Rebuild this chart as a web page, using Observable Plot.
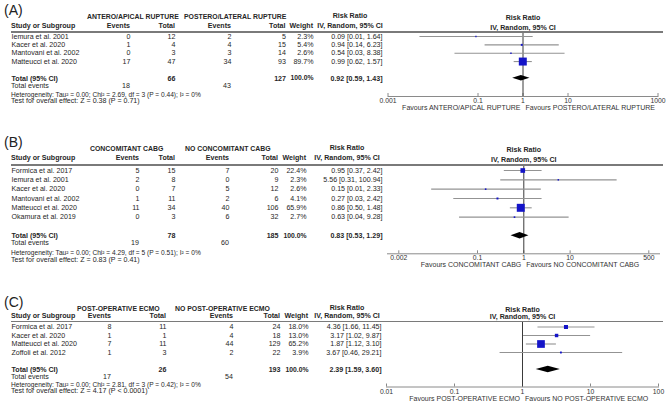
<!DOCTYPE html>
<html><head><meta charset="utf-8">
<script src="https://cdn.jsdelivr.net/npm/d3@7"></script>
<script src="https://cdn.jsdelivr.net/npm/@observablehq/plot@0.6"></script>
<style>
body{margin:0;background:#fff;}
#root{position:relative;width:667px;height:405px;overflow:hidden;font-family:"Liberation Sans",Arial,sans-serif;color:#262626;}
.panel{position:absolute;left:0;width:667px;}
.panel svg{position:absolute;left:0;top:0;overflow:visible;}
.t{position:absolute;white-space:nowrap;font-size:7.1px;line-height:1;}
.rule{position:absolute;height:1.2px;background:#7a7a7a;}
</style></head><body><div id="root"></div><script>
// ---------- Panel A data ----------
const aStudies = ["Iemura et al. 2001","Kacer et al. 2020","Mantovani et al. 2002","Matteucci et al. 2020"];
const aEv1 = [0,1,0,17];
const aTot1 = [12,4,3,47];
const aEv2 = [2,4,3,34];
const aTot2 = [5,15,14,93];
const aWeight = [2.3,5.4,2.6,89.7];
const aRR = [0.09,0.94,0.54,0.99];
const aLo = [0.005,0.14,0.03,0.62];
const aHi = [1.64,6.23,8.38,1.57];
const aCI = ["0.09 [0.01, 1.64]","0.94 [0.14, 6.23]","0.54 [0.03, 8.38]","0.99 [0.62, 1.57]"];
const aTotal = [66,127];
const aTotalRR = [0.92,0.59,1.43];
const aTotalCI = "0.92 [0.59, 1.43]";
const aTotalEvents = [18,43];
const aHet = "Heterogeneity: Tau\u00b2 = 0.00; Chi\u00b2 = 2.69, df = 3 (P = 0.44); I\u00b2 = 0%";
const aTest = "Test for overall effect: Z = 0.38 (P = 0.71)";
const aGroups = ["ANTERO/APICAL RUPTURE","POSTERO/LATERAL RUPTURE"];
const aFavours = ["Favours ANTERO/APICAL RUPTURE","Favours POSTERO/LATERAL RUPTURE"];
const aTicks = [0.001,0.1,1,10,1000];
const aTickLabels = ["0.001","0.1","1","10","1000"];

// ---------- Panel B data ----------
const bStudies = ["Formica et al. 2017","Iemura et al. 2001","Kacer et al. 2020","Mantovani et al. 2002","Matteucci et al. 2020","Okamura et al. 2019"];
const bEv1 = [5,2,0,1,11,0];
const bTot1 = [15,8,7,11,34,3];
const bEv2 = [7,0,5,2,40,6];
const bTot2 = [20,9,12,6,106,32];
const bWeight = [22.4,2.3,2.6,4.1,65.9,2.7];
const bRR = [0.95,5.56,0.15,0.27,0.86,0.63];
const bLo = [0.37,0.31,0.01,0.03,0.50,0.04];
const bHi = [2.42,100.94,2.33,2.42,1.48,9.28];
const bCI = ["0.95 [0.37, 2.42]","5.56 [0.31, 100.94]","0.15 [0.01, 2.33]","0.27 [0.03, 2.42]","0.86 [0.50, 1.48]","0.63 [0.04, 9.28]"];
const bTotal = [78,185];
const bTotalRR = [0.83,0.53,1.29];
const bTotalCI = "0.83 [0.53, 1.29]";
const bTotalEvents = [19,60];
const bHet = "Heterogeneity: Tau\u00b2 = 0.00; Chi\u00b2 = 4.29, df = 5 (P = 0.51); I\u00b2 = 0%";
const bTest = "Test for overall effect: Z = 0.83 (P = 0.41)";
const bGroups = ["CONCOMITANT CABG","NO CONCOMITANT CABG"];
const bFavours = ["Favours CONCOMITANT CABG","Favours NO CONCOMITANT CABG"];
const bTicks = [0.002,0.1,1,10,500];
const bTickLabels = ["0.002","0.1","1","10","500"];

// ---------- Panel C data ----------
const cStudies = ["Formica et al. 2017","Kacer et al. 2020","Matteucci et al. 2020","Zoffoli et al. 2012"];
const cEv1 = [8,1,7,1];
const cTot1 = [11,1,11,3];
const cEv2 = [4,4,44,2];
const cTot2 = [24,18,129,22];
const cWeight = [18.0,13.0,65.2,3.9];
const cRR = [4.36,3.17,1.87,3.67];
const cLo = [1.66,1.02,1.12,0.46];
const cHi = [11.45,9.87,3.10,29.21];
const cCI = ["4.36 [1.66, 11.45]","3.17 [1.02, 9.87]","1.87 [1.12, 3.10]","3.67 [0.46, 29.21]"];
const cTotal = [26,193];
const cTotalRR = [2.39,1.59,3.60];
const cTotalCI = "2.39 [1.59, 3.60]";
const cTotalEvents = [17,54];
const cHet = "Heterogeneity: Tau\u00b2 = 0.00; Chi\u00b2 = 2.81, df = 3 (P = 0.42); I\u00b2 = 0%";
const cTest = "Test for overall effect: Z = 4.17 (P < 0.0001)";
const cGroups = ["POST-OPERATIVE ECMO","NO POST-OPERATIVE ECMO"];
const cFavours = ["Favours POST-OPERATIVE ECMO","Favours NO POST-OPERATIVE ECMO"];
const cTicks = [0.01,0.1,1,10,100];
const cTickLabels = ["0.01","0.1","1","10","100"];

// ---------- layout ----------
const layouts = [
  {label:"(A)", top:0, height:130, labelY:10, h1:17, h2:27, rule:32, rowRange:[36,77.75], te:87.3, het:94.5, test:101.8,
   axisY:96, tickY:100, favY:107.5, xRange:[387.5,657.5], domain:[0.001,1000], boxR:4.5, diamondH:2.8,
   cols:{study:11, ev1:130, tot1:175, ev2:231, tot2:285.5, wt:313, rr:382}, g1:87, g2:184, rrHead:350},
  {label:"(B)", top:130, height:140, labelY:12, h1:19.3, h2:29.3, rule:35, rowRange:[40,105.3], te:114, het:122.7, test:131,
   axisY:123.3, tickY:127.7, favY:134.5, xRange:[387,659], domain:[0.00114,851], boxR:4.5, diamondH:3.3,
   cols:{study:11, ev1:139, tot1:175, ev2:229, tot2:278, wt:306, rr:382}, g1:90, g2:185, rrHead:347},
  {label:"(C)", top:270, height:135, labelY:31.5, h1:39.3, h2:46.7, rule:51.5, rowRange:[56.5,99], te:107.5, het:114.5, test:122,
   axisY:116.5, tickY:121.5, favY:128.5, xRange:[386,658], domain:[0.01,100], boxR:4.35, diamondH:3.3,
   cols:{study:11, ev1:111, tot1:166, ev2:233, tot2:280, wt:308, rr:381}, g1:77, g2:175, rrHead:347}
];
const panels = [
  {studies:aStudies, ev1:aEv1, tot1:aTot1, ev2:aEv2, tot2:aTot2, weight:aWeight, rr:aRR, lo:aLo, hi:aHi, ci:aCI,
   total:aTotal, totalRR:aTotalRR, totalCI:aTotalCI, totalEvents:aTotalEvents, het:aHet, test:aTest, groups:aGroups, favours:aFavours, ticks:aTicks, tickLabels:aTickLabels},
  {studies:bStudies, ev1:bEv1, tot1:bTot1, ev2:bEv2, tot2:bTot2, weight:bWeight, rr:bRR, lo:bLo, hi:bHi, ci:bCI,
   total:bTotal, totalRR:bTotalRR, totalCI:bTotalCI, totalEvents:bTotalEvents, het:bHet, test:bTest, groups:bGroups, favours:bFavours, ticks:bTicks, tickLabels:bTickLabels},
  {studies:cStudies, ev1:cEv1, tot1:cTot1, ev2:cEv2, tot2:cTot2, weight:cWeight, rr:cRR, lo:cLo, hi:cHi, ci:cCI,
   total:cTotal, totalRR:cTotalRR, totalCI:cTotalCI, totalEvents:cTotalEvents, het:cHet, test:cTest, groups:cGroups, favours:cFavours, ticks:cTicks, tickLabels:cTickLabels}
];

const root = document.getElementById("root");
const FONT = '"Liberation Sans", Arial, sans-serif';

function addText(parent, txt, x, y, o = {}) {
  const d = document.createElement("div");
  d.className = "t";
  d.textContent = txt;
  const ax = o.anchor === "end" ? "-100%" : o.anchor === "middle" ? "-50%" : "0";
  d.style.left = x + "px";
  d.style.top = y + "px";
  d.style.transform = `translate(${ax},-50%)`;
  if (o.bold) d.style.fontWeight = "bold";
  if (o.size) d.style.fontSize = o.size + "px";
  if (o.color) d.style.color = o.color;
  parent.appendChild(d);
}

function buildPanel(P, L) {
  const div = document.createElement("div");
  div.className = "panel";
  div.style.top = L.top + "px";
  div.style.height = L.height + "px";
  root.appendChild(div);

  const n = P.studies.length, totIdx = n + 1;
  const recs = P.studies.map((s, i) => ({
    idx: i, study: s, ev1: String(P.ev1[i]), tot1: String(P.tot1[i]), ev2: String(P.ev2[i]), tot2: String(P.tot2[i]),
    w: P.weight[i], wt: P.weight[i].toFixed(1) + "%", rr: P.rr[i], lo: P.lo[i], hi: P.hi[i], ci: P.ci[i]
  }));
  const tot = [{idx: totIdx, study: "Total (95% CI)", tot1: String(P.total[0]), tot2: String(P.total[1]), wt: "100.0%", ci: P.totalCI}];
  const step = (L.rowRange[1] - L.rowRange[0]) / totIdx;
  const dh = L.diamondH / step;
  const [trr, tlo, thi] = P.totalRR;
  const diamond = [
    {x: tlo, y1: totIdx, y2: totIdx},
    {x: trr, y1: totIdx - dh, y2: totIdx + dh},
    {x: thi, y1: totIdx, y2: totIdx}
  ];
  const ml = L.xRange[0];
  const frameH = L.axisY - L.rule;
  const C = L.cols;
  const txt = (data, key, colX, anchor, extra = {}) => Plot.text(data, {
    y: "idx", text: key, frameAnchor: "left", dx: colX - ml, textAnchor: anchor, lineAnchor: "middle", fill: "#262626", ...extra
  });
  const B = {fontWeight: "bold"};
  const maxW = d3.max(P.weight);

  const svg = Plot.plot({
    width: 667,
    height: L.height,
    marginLeft: ml,
    marginRight: 667 - L.xRange[1],
    marginTop: L.rule,
    marginBottom: L.height - L.axisY,
    style: {fontFamily: FONT, fontSize: "7.1px", background: "transparent", overflow: "visible", color: "#262626"},
    x: {type: "log", domain: L.domain, axis: null},
    y: {type: "linear", domain: [0, totIdx], range: L.rowRange, axis: null},
    r: {type: "sqrt", domain: [0, maxW], range: [0, L.boxR]},
    marks: [
      Plot.frame({anchor: "bottom", stroke: "#8a8a8a"}),
      Plot.tickX(P.ticks, {x: d => d, stroke: "#8a8a8a", insetTop: frameH - 3}),
      Plot.ruleX([1], {stroke: "#3a3a3a"}),
      Plot.link(recs, {x1: "lo", x2: "hi", y1: "idx", y2: "idx", stroke: "#939393", strokeWidth: 1.1}),
      Plot.dot(recs, {x: "rr", y: "idx", r: "w", symbol: "square", fill: "#1414c8", stroke: null}),
      Plot.areaY(diamond, {x: "x", y1: "y1", y2: "y2", fill: "#000", curve: "linear"}),
      txt(recs, "study", C.study, "start"),
      txt(recs, "ev1", C.ev1, "end"),
      txt(recs, "tot1", C.tot1, "end"),
      txt(recs, "ev2", C.ev2, "end"),
      txt(recs, "tot2", C.tot2, "end"),
      txt(recs, "wt", C.wt, "end"),
      txt(recs, "ci", C.rr, "end"),
      txt(tot, "study", C.study, "start", B),
      txt(tot, "tot1", C.tot1, "end", B),
      txt(tot, "tot2", C.tot2, "end", B),
      txt(tot, "wt", C.wt, "end", {fontWeight: "bold", fontSize: 6.8}),
      txt(tot, "ci", C.rr, "end", B),
      Plot.text(P.ticks, {x: d => d, text: (d, i) => P.tickLabels[i], frameAnchor: "bottom", dy: L.tickY - L.axisY, lineAnchor: "middle", fill: "#333", fontSize: 6.8}),
      Plot.text([P.favours[0]], {x: () => 1, text: d => d, frameAnchor: "bottom", dy: L.favY - L.axisY, dx: -2.5, textAnchor: "end", lineAnchor: "middle", fill: "#333", fontSize: 7}),
      Plot.text([P.favours[1]], {x: () => 1, text: d => d, frameAnchor: "bottom", dy: L.favY - L.axisY, dx: 2.5, textAnchor: "start", lineAnchor: "middle", fill: "#333", fontSize: 7}),
      Plot.text(["Risk Ratio"], {x: () => 1, text: d => d, frameAnchor: "top", dy: L.h1 - L.rule, lineAnchor: "middle", fontWeight: "bold", fill: "#262626"}),
      Plot.text(["IV, Random, 95% CI"], {x: () => 1, text: d => d, frameAnchor: "top", dy: L.h2 - L.rule, lineAnchor: "middle", fontWeight: "bold", fill: "#262626"})
    ]
  });
  div.appendChild(svg);

  // static table text
  addText(div, L.label, 4, L.labelY, {size: 14, color: "#222"});
  addText(div, P.groups[0], L.g1, L.h1, {bold: true, size: 6.9});
  addText(div, P.groups[1], L.g2, L.h1, {bold: true, size: 6.9});
  addText(div, "Study or Subgroup", C.study, L.h2, {bold: true});
  addText(div, "Events", C.ev1, L.h2, {bold: true, anchor: "end"});
  addText(div, "Total", C.tot1, L.h2, {bold: true, anchor: "end"});
  addText(div, "Events", C.ev2, L.h2, {bold: true, anchor: "end"});
  addText(div, "Total", C.tot2, L.h2, {bold: true, anchor: "end"});
  addText(div, "Weight", C.wt, L.h2, {bold: true, anchor: "end"});
  addText(div, "Risk Ratio", L.rrHead, L.h1, {bold: true, anchor: "middle"});
  addText(div, "IV, Random, 95% CI", L.rrHead, L.h2, {bold: true, anchor: "middle"});
  const r = document.createElement("div");
  r.className = "rule";
  r.style.left = "11px";
  r.style.width = "652px";
  r.style.top = (L.rule - 0.6) + "px";
  div.appendChild(r);
  addText(div, "Total events", C.study, L.te);
  addText(div, String(P.totalEvents[0]), C.ev1, L.te, {anchor: "end"});
  addText(div, String(P.totalEvents[1]), C.ev2, L.te, {anchor: "end"});
  addText(div, P.het, C.study, L.het, {size: 6.6});
  addText(div, P.test, C.study, L.test);
}

panels.forEach((P, i) => buildPanel(P, layouts[i]));
</script></body></html>
